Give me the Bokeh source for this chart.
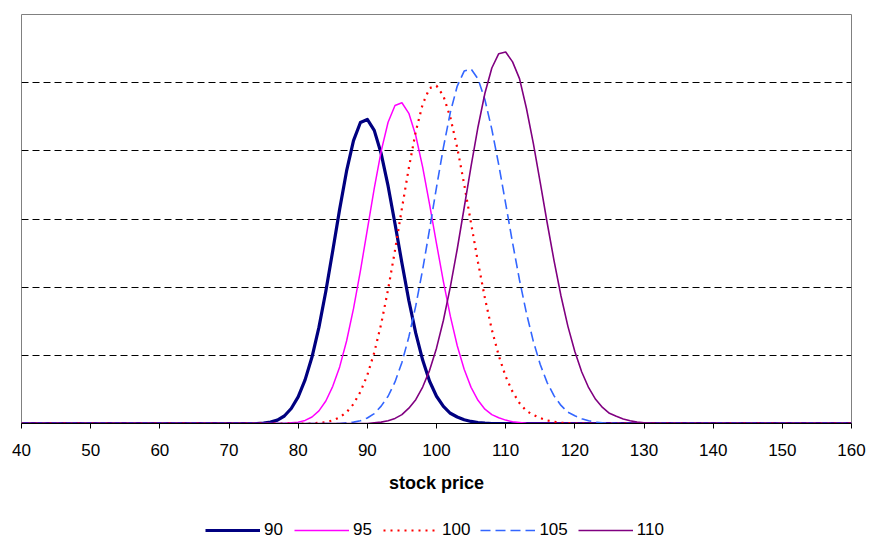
from bokeh.plotting import figure
from bokeh.layouts import column
from bokeh.models import Range1d, FixedTicker, Legend, LegendItem
from bokeh.embed import file_html
from bokeh.resources import INLINE

# stock price grid (x axis)
price = list(range(40, 161))

# probability of ending at each price, one list per strike; each list starts at
# the given price and the series is zero everywhere else
start_90 = 75
vals_90 = [0.0001, 0.0004, 0.0010, 0.0022, 0.0044, 0.0078, 0.0128, 0.0195, 0.0282,
           0.0388, 0.0507, 0.0629, 0.0741, 0.0830, 0.0883, 0.0892, 0.0860, 0.0792,
           0.0697, 0.0586, 0.0471, 0.0361, 0.0265, 0.0186, 0.0124, 0.0080, 0.0050,
           0.0030, 0.0019, 0.0011, 0.0006, 0.0003, 0.0001]

start_95 = 79
vals_95 = [0.0002, 0.0004, 0.0009, 0.0019, 0.0037, 0.0066, 0.0109, 0.0166, 0.0242,
           0.0337, 0.0448, 0.0569, 0.0690, 0.0799, 0.0884, 0.0933, 0.0941, 0.0910,
           0.0845, 0.0752, 0.0643, 0.0528, 0.0416, 0.0315, 0.0228, 0.0159, 0.0106,
           0.0068, 0.0042, 0.0026, 0.0017, 0.0010, 0.0005, 0.0003, 0.0001]

start_100 = 83
vals_100 = [0.0002, 0.0004, 0.0009, 0.0018, 0.0033, 0.0057, 0.0093, 0.0142, 0.0208,
            0.0292, 0.0393, 0.0508, 0.0631, 0.0750, 0.0856, 0.0937, 0.0984, 0.0991,
            0.0961, 0.0898, 0.0809, 0.0702, 0.0587, 0.0473, 0.0368, 0.0275, 0.0199,
            0.0138, 0.0093, 0.0060, 0.0037, 0.0025, 0.0016, 0.0009, 0.0005, 0.0002,
            0.0001]

start_105 = 87
vals_105 = [0.0002, 0.0004, 0.0008, 0.0016, 0.0029, 0.0051, 0.0080, 0.0122, 0.0179,
            0.0254, 0.0345, 0.0452, 0.0570, 0.0693, 0.0810, 0.0913, 0.0990, 0.1034,
            0.1040, 0.1011, 0.0950, 0.0863, 0.0759, 0.0645, 0.0530, 0.0421, 0.0324,
            0.0241, 0.0173, 0.0120, 0.0081, 0.0053, 0.0033, 0.0023, 0.0014, 0.0008,
            0.0004, 0.0002, 0.0001]

start_110 = 91
vals_110 = [0.0002, 0.0004, 0.0008, 0.0015, 0.0026, 0.0045, 0.0070, 0.0107, 0.0156,
            0.0221, 0.0303, 0.0401, 0.0512, 0.0633, 0.0755, 0.0870, 0.0969, 0.1043,
            0.1085, 0.1090, 0.1061, 0.1012, 0.0925, 0.0822, 0.0707, 0.0589, 0.0477,
            0.0374, 0.0285, 0.0211, 0.0151, 0.0105, 0.0071, 0.0047, 0.0030, 0.0021,
            0.0013, 0.0008, 0.0004, 0.0002, 0.0001]

strike_labels = ["90", "95", "100", "105", "110"]
x_ticks = list(range(40, 161, 10))
grid_levels = [0.02, 0.04, 0.06, 0.08, 0.10]


def full_series(start, vals):
    lead = [0.0] * (start - price[0])
    tail = [0.0] * (len(price) - len(lead) - len(vals))
    return lead + vals + tail


series = [full_series(start_90, vals_90), full_series(start_95, vals_95),
          full_series(start_100, vals_100), full_series(start_105, vals_105),
          full_series(start_110, vals_110)]

line_styles = [dict(line_color="#000080", line_width=3.2, line_join="round"),
               dict(line_color="#FF00FF", line_width=1.5, line_join="round"),
               dict(line_color="#FF0000", line_width=2.2, line_dash="2 5"),
               dict(line_color="#3366FF", line_width=1.6, line_dash="10 5"),
               dict(line_color="#800080", line_width=1.6, line_join="round")]

FONT = "Liberation Sans"


def draw_series(fig):
    return [fig.line(price, ys, **style) for ys, style in zip(series, line_styles)]


# main chart
p = figure(frame_width=830, frame_height=409, output_backend="svg",
           toolbar_location=None,
           x_range=Range1d(40, 160), y_range=Range1d(0, 0.12),
           min_border_left=21, min_border_right=31, min_border_top=14,
           min_border_bottom=97)

p.background_fill_color = "white"
p.border_fill_color = "white"
p.outline_line_color = "#808080"
p.outline_line_width = 1

p.xgrid.visible = False
p.ygrid.ticker = FixedTicker(ticks=grid_levels)
p.ygrid.grid_line_color = "black"
p.ygrid.grid_line_width = 1
p.ygrid.grid_line_dash = "7 4"

p.yaxis.visible = False

xa = p.xaxis[0]
xa.ticker = FixedTicker(ticks=x_ticks)
xa.axis_line_color = "black"
xa.major_tick_line_color = "black"
xa.major_tick_in = 0
xa.major_tick_out = 5
xa.minor_tick_line_color = None
xa.major_label_text_font = FONT
xa.major_label_text_font_size = "17px"
xa.major_label_text_color = "black"
xa.major_label_standoff = 15
xa.axis_label = "stock price"
xa.axis_label_text_font = FONT
xa.axis_label_text_font_size = "18px"
xa.axis_label_text_font_style = "bold"
xa.axis_label_text_color = "black"
xa.axis_label_standoff = 14

draw_series(p)

# legend strip under the chart; its lines lie outside the strip's x range,
# so only the legend swatches show
key = figure(width=882, height=20, output_backend="svg", toolbar_location=None,
             x_range=Range1d(-2, -1), y_range=Range1d(0, 1),
             min_border_left=0, min_border_right=0, min_border_top=0,
             min_border_bottom=0)
key.axis.visible = False
key.grid.visible = False
key.outline_line_color = None
key.background_fill_color = "white"
key.border_fill_color = "white"

key_renderers = draw_series(key)

legend = Legend(items=[LegendItem(label=lab, renderers=[r])
                       for lab, r in zip(strike_labels, key_renderers)],
                orientation="horizontal", location=(184, 0),
                glyph_width=55, glyph_height=18, label_standoff=4, spacing=10,
                padding=0, margin=0, border_line_color=None,
                background_fill_alpha=0,
                label_text_font=FONT, label_text_font_size="17px",
                label_text_color="black")
key.add_layout(legend, "center")

layout = column(p, key, spacing=0)

open("out.html", "w").write(file_html(layout, INLINE))
